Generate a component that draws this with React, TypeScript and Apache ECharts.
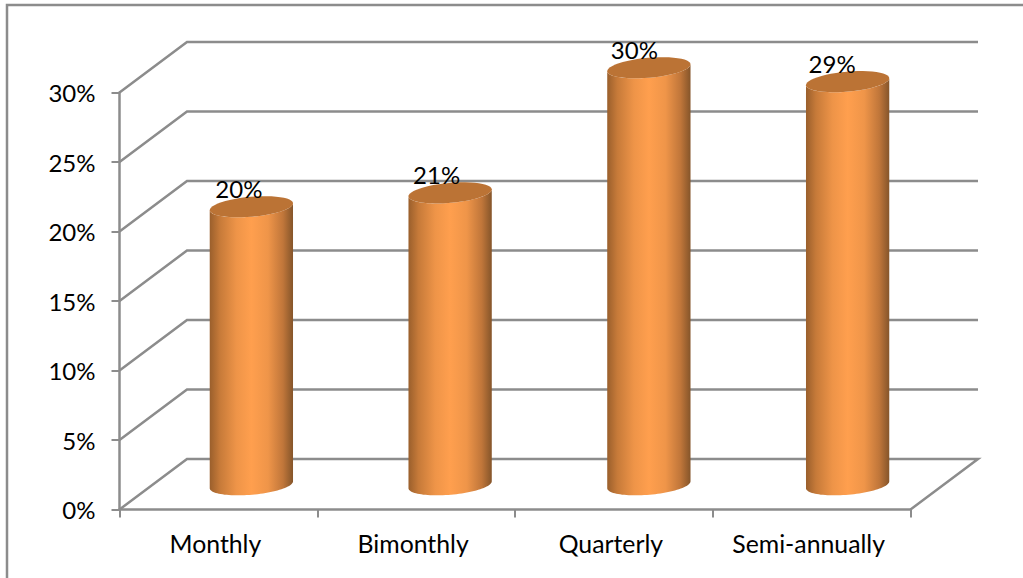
import React, { useEffect, useRef } from "react";
import * as echarts from "echarts";

const categories = ["Monthly", "Bimonthly", "Quarterly", "Semi-annually"];
const shares = [20, 21, 30, 29];
const axisTicks = [0, 5, 10, 15, 20, 25, 30];

const GRID = { left: 119.5, top: 92.5, width: 791, height: 417 };
const DEPTH_X = 67.5;
const DEPTH_Y = -50.5;
const LINE = "#8c8c8c";
const LINE_WIDTH = 2.5;
const FONT = "Lato, 'Open Sans', sans-serif";

// Tilted ellipse outline sampled between two angles (degrees).
function arcPoints(cx: number, cy: number, rx: number, ry: number, from: number, to: number) {
  const tilt = (-5 * Math.PI) / 180;
  const pts: number[][] = [];
  const n = 48;
  for (let i = 0; i <= n; i++) {
    const a = ((from + ((to - from) * i) / n) * Math.PI) / 180;
    const ex = rx * Math.cos(a);
    const ey = ry * Math.sin(a);
    pts.push([cx + ex * Math.cos(tilt) - ey * Math.sin(tilt), cy + ex * Math.sin(tilt) + ey * Math.cos(tilt)]);
  }
  return pts;
}

const bodyFill = {
  type: "linear", x: 0, y: 0, x2: 1, y2: 0,
  colorStops: [
    { offset: 0, color: "#9a5f2c" },
    { offset: 0.12, color: "#c67a39" },
    { offset: 0.32, color: "#ee9448" },
    { offset: 0.5, color: "#ff9f4e" },
    { offset: 0.7, color: "#ef9549" },
    { offset: 0.88, color: "#c0763a" },
    { offset: 1, color: "#85552a" },
  ],
};

export default function App() {
  const ref = useRef<HTMLDivElement>(null);

  useEffect(() => {
    document.body.style.margin = "0";
    const chart = echarts.init(ref.current!, undefined, { renderer: "svg" });
    chart.setOption({
      animation: false,
      backgroundColor: "#ffffff",
      graphic: [
        {
          // Chart frame: only its left and top edges fall inside the page.
          type: "polyline",
          silent: true,
          shape: { points: [[7, 578], [7, 5], [1023, 5]] },
          style: { fill: "none", stroke: LINE, lineWidth: LINE_WIDTH },
        },
      ],
      grid: { ...GRID, containLabel: false },
      xAxis: {
        type: "category",
        data: categories,
        axisLine: { lineStyle: { color: LINE, width: LINE_WIDTH } },
        axisTick: { show: true, interval: 0, length: 8, lineStyle: { color: LINE, width: 2 } },
        axisLabel: {
          color: "#000",
          fontFamily: FONT,
          fontSize: 24.8,
          margin: 21,
          interval: 0,
          hideOverlap: false,
          padding: [0, 6, 0, 0],
        },
      },
      yAxis: {
        type: "value",
        min: 0,
        max: 30,
        interval: 5,
        splitLine: { show: false },
        axisLine: { show: true, lineStyle: { color: LINE, width: LINE_WIDTH } },
        axisTick: { show: true, length: 8, lineStyle: { color: LINE, width: 2 } },
        axisLabel: {
          color: "#000",
          fontFamily: FONT,
          fontSize: 24,
          margin: 24,
          padding: [3, 0, 0, 0],
          formatter: "{value}%",
        },
      },
      series: [
        {
          // Receding wall lines: side diagonal plus the horizontal at the back.
          type: "custom",
          silent: true,
          z: 1,
          data: axisTicks.map((v) => [0, v]),
          renderItem: (_p: any, api: any) => {
            const v = api.value(1);
            const start = api.coord([0, v]);
            const xStart = GRID.left;
            const xEnd = GRID.left + GRID.width;
            return {
              type: "polyline",
              shape: {
                points: [
                  [xStart, start[1]],
                  [xStart + DEPTH_X, start[1] + DEPTH_Y],
                  [xEnd + DEPTH_X, start[1] + DEPTH_Y],
                  ...(v === 0 ? [[xEnd, start[1]]] : []),
                ],
              },
              style: { fill: "none", stroke: LINE, lineWidth: LINE_WIDTH },
            };
          },
        },
        {
          // Cylinders standing midway between the front edge and the back wall.
          type: "custom",
          silent: true,
          z: 3,
          data: shares.map((v, i) => [i, v]),
          renderItem: (_p: any, api: any) => {
            const index = api.value(0);
            const top = api.coord([index, api.value(1)]);
            const base = api.coord([index, 0]);
            const cx = top[0] + 33 + index;
            const topY = top[1] + DEPTH_Y / 2 + 0.5;
            const baseY = base[1] + DEPTH_Y / 2 + 0.5;
            const rx = 41.8;
            const ry = 10;
            const lower = arcPoints(cx, baseY, rx, ry, 180, 0);
            const upper = arcPoints(cx, topY, rx, ry, 0, 180);
            return {
              type: "group",
              children: [
                {
                  type: "polygon",
                  shape: { points: [...upper, ...lower] },
                  style: { fill: bodyFill },
                },
                {
                  type: "polygon",
                  shape: { points: arcPoints(cx, topY, rx, ry, 0, 360) },
                  style: { fill: "#bb7335" },
                },
                {
                  type: "text",
                  x: top[0] + 20.5,
                  y: topY - 18.5,
                  style: {
                    text: `${api.value(1)}%`,
                    fontFamily: FONT,
                    fontSize: 24,
                    fill: "#000",
                    align: "center",
                    verticalAlign: "middle",
                  },
                },
              ],
            };
          },
        },
      ],
    });
    return () => chart.dispose();
  }, []);

  return <div ref={ref} style={{ width: 1023, height: 578 }} />;
}
